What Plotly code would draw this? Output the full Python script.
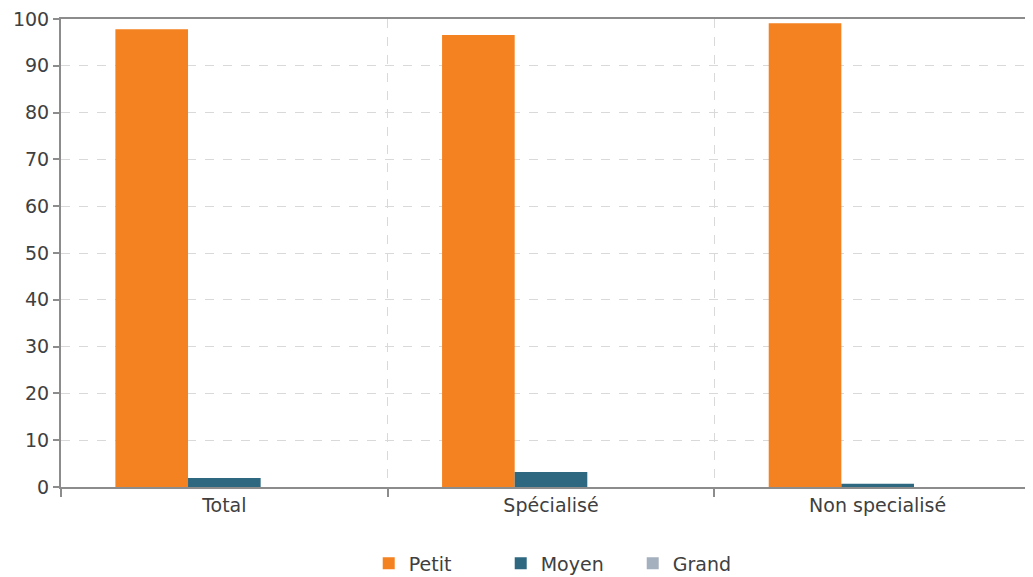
import plotly.graph_objects as go

categories = ["Total", "Spécialisé", "Non specialisé"]
petit = [97.8, 96.6, 99.1]
moyen = [1.9, 3.2, 0.7]
grand = [0.0, 0.0, 0.0]
series_names = ["Petit", "Moyen", "Grand"]
colors = ["#F58220", "#2E6880", "#A5B0BE"]
y_ticks = [0, 10, 20, 30, 40, 50, 60, 70, 80, 90, 100]

fig = go.Figure()
for name, vals, col in zip(series_names, [petit, moyen, grand], colors):
    fig.add_trace(go.Bar(x=categories, y=vals, name=name, marker_color=col,
                         marker_line_width=0))

font_family = "DejaVu Sans, sans-serif"
txt = "#404040"
fig.update_layout(
    width=1033, height=577,
    margin=dict(l=53, r=0, t=11, b=98),
    paper_bgcolor="white", plot_bgcolor="white",
    barmode="group", bargap=0.333, bargroupgap=0,
    font=dict(family=font_family, size=19, color=txt),
    legend=dict(orientation="h", x=0.314, xanchor="left", y=-0.163, yanchor="middle",
                font=dict(size=19, color=txt), itemwidth=30,
                entrywidth=87, traceorder="normal"),
    xaxis=dict(type="category", range=[-0.5, 2.5], tickson="boundaries",
               automargin=False,
               showline=True, linecolor="#8C8C8C", linewidth=2, mirror=True,
               ticks="outside", ticklen=8, tickcolor="#8C8C8C", tickwidth=2,
               showgrid=True, gridcolor="#D9D9D9", griddash="dash", gridwidth=1,
               tickfont=dict(size=19, color=txt)),
    yaxis=dict(range=[0, 100], tickvals=y_ticks, showline=True, linecolor="#8C8C8C",
               automargin=False, ticklabeloverflow="allow",
               linewidth=2, ticks="outside", ticklen=6, tickcolor="#8C8C8C", tickwidth=2,
               showgrid=True, gridcolor="#D9D9D9", griddash="dash", gridwidth=1,
               zeroline=False, tickfont=dict(size=19, color=txt)),
)
fig.write_html("out.html")
